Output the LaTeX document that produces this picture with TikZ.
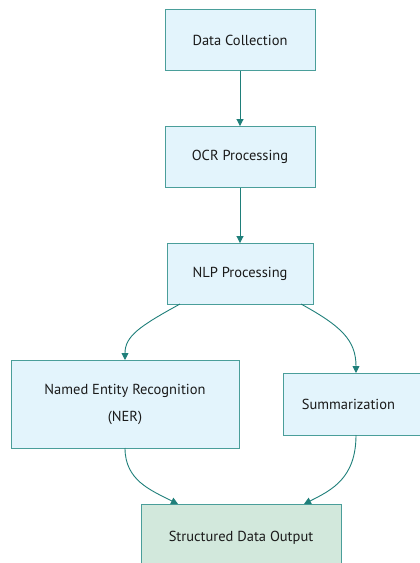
\documentclass[tikz,border=0pt]{standalone}
\usepackage{fontspec}
\setmainfont{PT Sans}
\usetikzlibrary{arrows.meta}
\definecolor{boxfill}{HTML}{E3F4FC}
\definecolor{boxline}{HTML}{4A9E9A}
\definecolor{outfill}{HTML}{D2E8DC}
\definecolor{edgecol}{HTML}{1F7F7A}
\definecolor{txt}{HTML}{1A1A1A}
\tikzset{
  proc/.style={draw=boxline, fill=boxfill, line width=0.9pt, text=txt, font=\fontsize{14.5}{27}\selectfont, align=center, inner sep=0pt},
  outbox/.style={proc, fill=outfill},
  flow/.style={draw=edgecol, line width=0.9pt, -{Triangle[length=7pt,width=7pt]}}
}
\begin{document}
\begin{tikzpicture}[x=1pt,y=-1pt]
\useasboundingbox (0,0) rectangle (420,563);
\node[proc, minimum width=150pt, minimum height=61pt] (dc) at (240,40) {Data Collection};
\node[proc, minimum width=150pt, minimum height=61pt] (ocr) at (240,157) {OCR Processing};
\node[proc, minimum width=146pt, minimum height=61pt] (nlp) at (240,274) {NLP Processing};
\node[proc, minimum width=228pt, minimum height=88pt] (ner) at (125,404) {Named Entity Recognition\\(NER)};
\node[proc, minimum width=146pt, minimum height=62pt, anchor=west] (sum) at (283,404) {\hspace*{-8pt}Summarization\hspace*{8pt}};
\node[outbox, minimum width=200pt, minimum height=70pt, anchor=north] (out) at (241,504) {\raisebox{6pt}{Structured Data Output}};
\draw[flow] (dc.south) -- (ocr.north);
\draw[flow] (ocr.south) -- (nlp.north);
\coordinate (n1) at (180,304);
\coordinate (n2) at (125,360);
\draw[flow] (n1) .. controls (140,326) and (125,336) .. (n2);
\coordinate (s1) at (301,304);
\coordinate (s2) at (356,373);
\draw[flow] (s1) .. controls (341,326) and (356,340) .. (s2);
\coordinate (e1) at (125,448);
\coordinate (e2) at (178,504);
\draw[flow] (e1) .. controls (125,480) and (150,490) .. (e2);
\coordinate (f1) at (356,435);
\coordinate (f2) at (304,504);
\draw[flow] (f1) .. controls (356,478) and (332,490) .. (f2);
\end{tikzpicture}
\end{document}
